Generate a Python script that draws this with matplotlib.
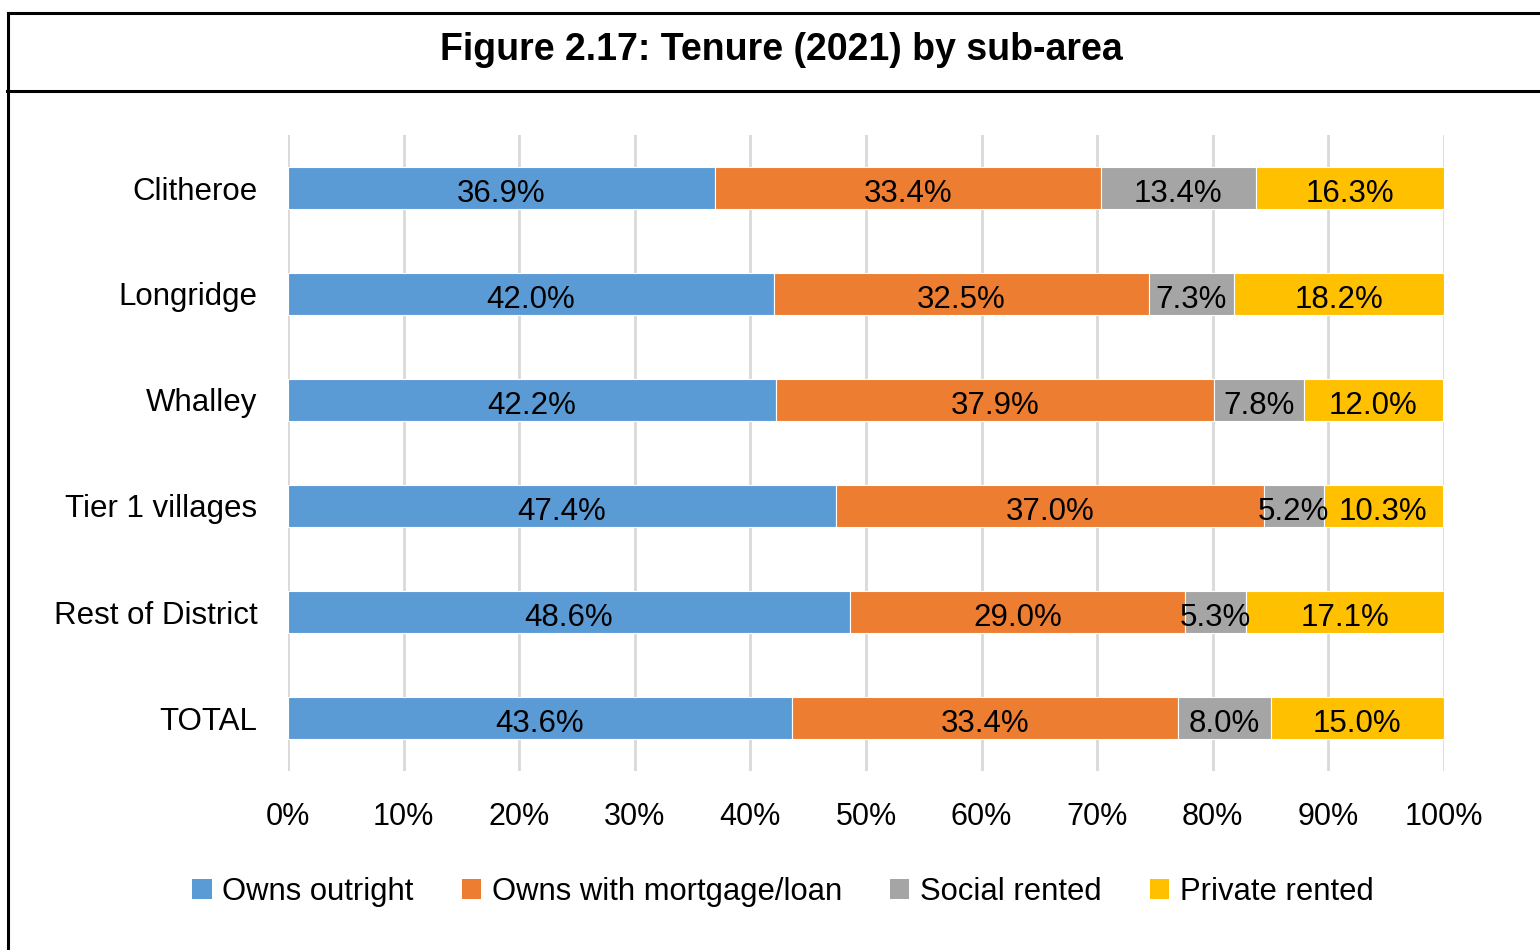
import matplotlib.pyplot as plt
from matplotlib.lines import Line2D
from matplotlib.patches import Patch
import numpy as np

# data
areas = ["Clitheroe", "Longridge", "Whalley", "Tier 1 villages", "Rest of District", "TOTAL"]
series = ["Owns outright", "Owns with mortgage/loan", "Social rented", "Private rented"]
owns_outright = [36.9, 42.0, 42.2, 47.4, 48.6, 43.6]
owns_mortgage = [33.4, 32.5, 37.9, 37.0, 29.0, 33.4]
social_rented = [13.4, 7.3, 7.8, 5.2, 5.3, 8.0]
private_rented = [16.3, 18.2, 12.0, 10.3, 17.1, 15.0]
colors = ["#5B9BD5", "#ED7D31", "#A5A5A5", "#FFC000"]

plt.rcParams["font.family"] = ["Liberation Sans", "DejaVu Sans"]

W, H = 1540, 950
fig = plt.figure(figsize=(W / 100, H / 100), dpi=100)
ax = fig.add_axes([288 / W, (H - 771) / H, (1444 - 288) / W, (771 - 135) / H])

y = np.arange(len(areas))
left = np.zeros(len(areas))
data = [owns_outright, owns_mortgage, social_rented, private_rented]
for vals, name, c in zip(data, series, colors):
    vals = np.array(vals)
    ax.barh(y, vals, left=left, height=0.4, color=c, edgecolor="white",
            linewidth=0.8, label=name, zorder=3)
    # value labels in the middle of each segment
    for yi, l, v in zip(y, left, vals):
        ax.text(l + v / 2, yi + 0.02, f"{v:.1f}%", ha="center", va="center_baseline",
                fontsize=22.5, color="black", zorder=4)
    left = left + vals

ax.set_xlim(0, 100)
ax.set_ylim(len(areas) - 0.5, -0.5)
ax.set_xticks(np.arange(0, 101, 10))
ax.set_xticklabels([f"{t}%" for t in range(0, 101, 10)], fontsize=22)
ax.set_yticks(y)
ax.set_yticklabels(areas, fontsize=22.5)
ax.tick_params(axis="both", length=0)
ax.tick_params(axis="x", pad=22)
ax.tick_params(axis="y", pad=22)
ax.grid(axis="x", color="#D9D9D9", linewidth=2, zorder=0)
for s in ax.spines.values():
    s.set_visible(False)

# legend under the chart
handles = [Patch(facecolor=c, edgecolor="none") for c in colors]
fig.legend(handles, series, loc="center", bbox_to_anchor=(783 / W, 1 - 892 / H),
           ncol=4, frameon=False, fontsize=22.3, handlelength=0.62, handleheight=0.62,
           handletextpad=0.35, columnspacing=1.55)

# title box and border lines
fig.text(781 / W, 1 - 50 / H, "Figure 2.17: Tenure (2021) by sub-area",
         ha="center", va="center", fontsize=27, fontweight="bold")
lw = 2.2
fig.add_artist(Line2D([8 / W, 1], [1 - 13 / H, 1 - 13 / H], color="black", lw=lw))
fig.add_artist(Line2D([7 / W, 1], [1 - 91 / H, 1 - 91 / H], color="black", lw=lw))
fig.add_artist(Line2D([8 / W, 8 / W], [1 - 13 / H, 0], color="black", lw=lw))

fig.savefig("out.png", dpi=100, facecolor="white")
